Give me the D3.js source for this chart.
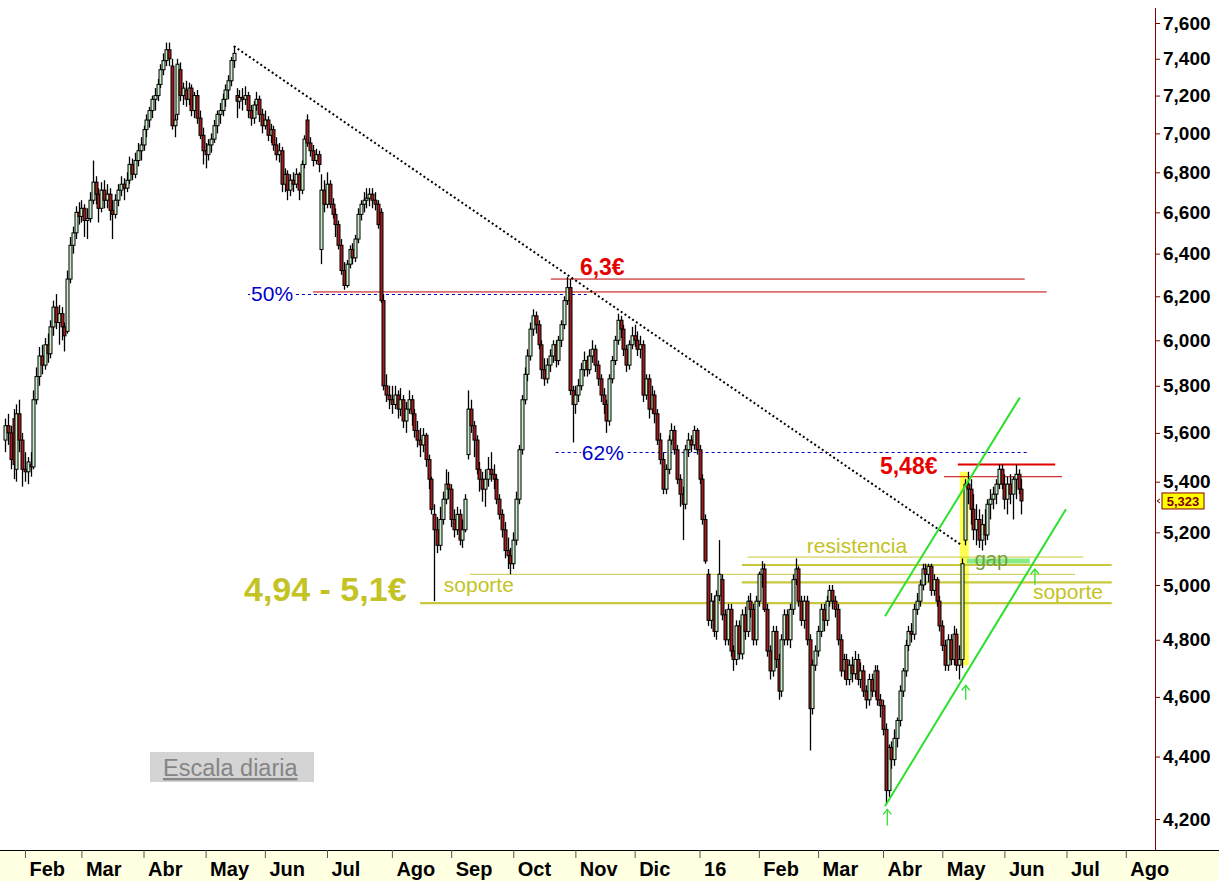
<!DOCTYPE html>
<html>
<head>
<meta charset="utf-8">
<script src="https://cdn.jsdelivr.net/npm/d3@7/dist/d3.min.js"></script>
<style>
html,body{margin:0;padding:0;background:#fff;}
svg{display:block;font-family:"Liberation Sans",Arial,Helvetica,sans-serif;}
</style>
</head>
<body>
<svg id="chart" width="1219" height="881"></svg>
<script>
// ---------- DATA: daily candles [open, high, low, close] ----------
const jan15=[[5.57,5.66,5.52,5.63],[5.63,5.68,5.55,5.60],[5.60,5.63,5.45,5.49],[5.66,5.70,5.41,5.47],[5.45,5.72,5.40,5.68],[5.68,5.74,5.52,5.57],[5.57,5.60,5.38,5.45]];
const feb15=[[5.45,5.52,5.40,5.44],[5.44,5.50,5.39,5.48],[5.47,5.52,5.42,5.46],[5.46,5.78,5.45,5.74],[5.74,5.88,5.72,5.84],[5.84,5.97,5.80,5.93],[5.93,5.98,5.85,5.89],[5.89,6.01,5.87,5.98],[5.98,6.03,5.90,5.94],[5.94,6.09,5.92,6.06],[6.06,6.18,6.02,6.15],[6.15,6.21,6.05,6.08],[6.08,6.16,5.98,6.12],[6.12,6.15,6.00,6.06],[6.06,6.08,5.95,6.02],[6.04,6.32,6.03,6.28],[6.28,6.48,6.26,6.44],[6.44,6.53,6.40,6.50],[6.50,6.63,6.47,6.60],[6.60,6.65,6.54,6.58]];
const mar15=[[6.58,6.66,6.55,6.62],[6.62,6.64,6.48,6.56],[6.56,6.62,6.47,6.57],[6.57,6.70,6.55,6.66],[6.66,6.86,6.64,6.75],[6.75,6.78,6.64,6.69],[6.69,6.72,6.55,6.62],[6.62,6.75,6.60,6.71],[6.71,6.76,6.62,6.66],[6.66,6.74,6.62,6.69],[6.69,6.72,6.56,6.61],[6.61,6.66,6.47,6.59],[6.59,6.69,6.57,6.66],[6.66,6.74,6.63,6.71],[6.71,6.78,6.68,6.74],[6.74,6.77,6.66,6.72],[6.72,6.80,6.70,6.76],[6.76,6.88,6.74,6.84],[6.84,6.87,6.76,6.79],[6.79,6.90,6.77,6.86],[6.86,6.95,6.83,6.91],[6.91,6.98,6.86,6.94]];
const apr15=[[6.94,7.04,6.91,7.02],[7.02,7.10,6.98,7.07],[7.07,7.14,7.03,7.12],[7.12,7.20,7.08,7.18],[7.18,7.24,7.12,7.20],[7.20,7.29,7.17,7.26],[7.26,7.37,7.24,7.34],[7.34,7.43,7.31,7.39],[7.39,7.49,7.36,7.45],[7.45,7.49,7.36,7.40],[7.36,7.40,7.02,7.04],[7.04,7.10,6.98,7.07],[7.10,7.40,7.07,7.37],[7.34,7.38,7.17,7.20],[7.20,7.27,7.15,7.24],[7.23,7.28,7.14,7.18],[7.18,7.27,7.15,7.24],[7.24,7.26,7.09,7.12],[7.12,7.22,7.08,7.20],[7.20,7.23,7.05,7.08],[7.08,7.12,6.97,6.99],[6.99,7.03,6.84,6.91]];
const may15=[[6.91,6.95,6.82,6.89],[6.89,6.97,6.86,6.94],[6.94,7.00,6.90,6.97],[6.97,7.07,6.95,7.04],[7.04,7.12,7.00,7.10],[7.10,7.16,7.05,7.12],[7.12,7.21,7.09,7.18],[7.18,7.26,7.14,7.23],[7.23,7.31,7.18,7.28],[7.28,7.41,7.25,7.39],[7.39,7.47,7.35,7.43],[7.20,7.24,7.08,7.17],[7.17,7.23,7.13,7.19],[7.19,7.24,7.12,7.18],[7.18,7.25,7.15,7.20],[7.20,7.22,7.08,7.12],[7.12,7.15,7.04,7.08],[7.08,7.17,7.05,7.15],[7.15,7.22,7.12,7.18],[7.18,7.20,7.06,7.10],[7.10,7.13,7.00,7.04]];
const jun15=[[7.04,7.12,7.02,7.07],[7.07,7.09,6.96,6.99],[6.99,7.05,6.95,7.02],[7.02,7.04,6.91,6.94],[6.94,6.98,6.86,6.89],[6.89,6.95,6.85,6.91],[6.91,6.93,6.70,6.74],[6.74,6.82,6.70,6.79],[6.79,6.81,6.66,6.71],[6.71,6.79,6.68,6.76],[6.76,6.80,6.70,6.74],[6.74,6.82,6.72,6.79],[6.79,6.80,6.66,6.71],[6.71,6.86,6.69,6.84],[6.84,6.99,6.82,6.97],[7.07,7.10,6.93,6.95],[6.95,6.98,6.88,6.91],[6.91,6.94,6.83,6.86],[6.86,6.92,6.84,6.89],[6.89,6.91,6.80,6.84],[6.42,6.79,6.35,6.71],[6.71,6.76,6.60,6.64]];
const jul15=[[6.64,6.80,6.62,6.74],[6.74,6.76,6.62,6.64],[6.64,6.67,6.57,6.59],[6.59,6.62,6.48,6.54],[6.54,6.56,6.42,6.44],[6.44,6.47,6.30,6.32],[6.32,6.36,6.23,6.25],[6.25,6.37,6.24,6.35],[6.35,6.44,6.33,6.42],[6.42,6.45,6.35,6.38],[6.38,6.49,6.36,6.47],[6.47,6.62,6.45,6.59],[6.59,6.66,6.56,6.64],[6.64,6.70,6.60,6.66],[6.66,6.72,6.62,6.67],[6.67,6.72,6.63,6.69],[6.69,6.72,6.62,6.66],[6.66,6.70,6.61,6.64],[6.64,6.66,6.52,6.54],[6.60,6.62,6.17,6.18],[6.18,6.21,5.78,5.80],[5.80,5.85,5.73,5.76],[5.76,5.80,5.70,5.74]];
const aug15=[[5.74,5.80,5.68,5.72],[5.72,5.80,5.70,5.76],[5.76,5.78,5.66,5.70],[5.70,5.79,5.67,5.74],[5.74,5.76,5.62,5.65],[5.65,5.73,5.60,5.70],[5.70,5.78,5.68,5.74],[5.74,5.76,5.63,5.68],[5.68,5.70,5.58,5.61],[5.61,5.65,5.54,5.57],[5.57,5.62,5.50,5.55],[5.55,5.62,5.52,5.59],[5.59,5.60,5.46,5.49],[5.49,5.51,5.37,5.41],[5.41,5.42,5.27,5.29],[5.27,5.31,4.94,5.21],[5.21,5.26,5.12,5.15],[5.15,5.30,5.13,5.25],[5.25,5.36,5.23,5.33],[5.33,5.45,5.31,5.39],[5.39,5.44,5.33,5.37]];
const sep15=[[5.37,5.39,5.22,5.25],[5.25,5.29,5.18,5.21],[5.21,5.30,5.19,5.27],[5.27,5.29,5.15,5.17],[5.17,5.25,5.14,5.21],[5.21,5.35,5.20,5.33],[5.51,5.78,5.49,5.70],[5.70,5.74,5.60,5.63],[5.63,5.65,5.50,5.57],[5.57,5.59,5.43,5.45],[5.45,5.48,5.36,5.41],[5.41,5.44,5.32,5.37],[5.37,5.45,5.30,5.41],[5.41,5.50,5.38,5.45],[5.45,5.52,5.40,5.43],[5.43,5.47,5.37,5.41],[5.41,5.43,5.31,5.33],[5.33,5.35,5.25,5.27],[5.27,5.29,5.18,5.21],[5.21,5.24,5.10,5.13],[5.13,5.18,5.06,5.11],[5.11,5.14,5.04,5.08]];
const oct15=[[5.08,5.20,5.06,5.17],[5.17,5.36,5.15,5.33],[5.33,5.55,5.31,5.53],[5.53,5.76,5.51,5.74],[5.74,5.88,5.72,5.85],[5.85,5.96,5.82,5.93],[5.93,6.08,5.91,6.05],[6.05,6.14,6.02,6.11],[6.11,6.13,6.03,6.07],[6.07,6.09,5.96,5.98],[5.98,6.00,5.83,5.87],[5.87,5.92,5.80,5.83],[5.83,5.92,5.81,5.89],[5.89,5.96,5.86,5.93],[5.93,6.00,5.90,5.98],[5.98,6.00,5.88,5.91],[5.91,6.02,5.89,6.00],[6.00,6.09,5.97,6.07],[6.07,6.20,6.05,6.18],[6.18,6.29,6.16,6.24],[6.24,6.28,5.76,5.78],[5.78,5.80,5.56,5.72]];
const nov15=[[5.72,5.80,5.68,5.76],[5.76,5.83,5.73,5.80],[5.80,5.90,5.78,5.87],[5.87,5.95,5.84,5.91],[5.91,5.93,5.84,5.87],[5.87,5.96,5.85,5.93],[5.93,6.00,5.90,5.96],[5.96,5.98,5.86,5.89],[5.89,5.91,5.80,5.83],[5.83,5.85,5.73,5.76],[5.76,5.79,5.68,5.72],[5.72,5.74,5.60,5.65],[5.65,5.85,5.63,5.83],[5.83,5.93,5.81,5.91],[5.91,6.02,5.89,6.00],[6.00,6.12,5.98,6.09],[6.09,6.11,6.01,6.05],[6.05,6.07,5.93,5.96],[5.96,5.98,5.86,5.89],[5.89,6.00,5.87,5.98],[5.98,6.06,5.96,6.02]];
const dec15=[[6.02,6.07,5.97,6.00],[6.00,6.04,5.93,5.96],[5.96,6.02,5.92,5.98],[5.98,6.00,5.73,5.76],[5.76,5.85,5.74,5.83],[5.83,5.85,5.66,5.70],[5.70,5.80,5.68,5.76],[5.76,5.78,5.64,5.68],[5.68,5.70,5.55,5.57],[5.57,5.60,5.47,5.49],[5.49,5.52,5.35,5.37],[5.37,5.47,5.35,5.45],[5.45,5.59,5.43,5.57],[5.57,5.64,5.55,5.61],[5.61,5.63,5.51,5.53],[5.53,5.55,5.39,5.41],[5.41,5.43,5.30,5.35],[5.35,5.38,5.17,5.31],[5.31,5.55,5.29,5.53],[5.53,5.60,5.50,5.57],[5.57,5.59,5.52,5.55],[5.55,5.63,5.53,5.61],[5.61,5.62,5.51,5.53]];
const jan16=[[5.53,5.55,5.39,5.41],[5.41,5.43,5.23,5.25],[5.25,5.27,5.08,5.09],[5.04,5.06,4.85,4.87],[4.87,4.97,4.84,4.94],[4.94,4.96,4.81,4.83],[4.83,4.98,4.80,4.96],[4.96,5.17,4.94,5.04],[5.02,5.04,4.87,4.89],[4.89,4.91,4.78,4.80],[4.80,4.93,4.78,4.91],[4.91,4.93,4.74,4.76],[4.76,4.78,4.69,4.73],[4.73,4.87,4.71,4.85],[4.85,4.87,4.73,4.75],[4.75,4.91,4.73,4.89],[4.89,4.92,4.80,4.83],[4.83,4.96,4.81,4.94],[4.94,4.97,4.88,4.91],[4.91,4.93,4.78,4.80],[4.80,4.96,4.78,4.94]];
const feb16=[[4.94,5.05,4.92,5.04],[5.04,5.09,4.99,5.06],[5.06,5.08,4.90,4.91],[4.91,4.93,4.74,4.76],[4.76,4.78,4.66,4.69],[4.69,4.85,4.67,4.83],[4.83,4.85,4.70,4.73],[4.73,4.75,4.59,4.62],[4.62,4.82,4.60,4.80],[4.80,4.91,4.78,4.89],[4.89,4.91,4.78,4.80],[4.80,4.93,4.77,4.91],[4.91,5.04,4.89,5.02],[5.02,5.10,5.00,5.06],[5.06,5.07,4.92,4.94],[4.94,4.96,4.85,4.87],[4.87,4.96,4.84,4.94],[4.94,4.96,4.78,4.80],[4.80,4.82,4.42,4.56],[4.56,4.73,4.54,4.71],[4.71,4.78,4.69,4.76]];
const mar16=[[4.76,4.85,4.74,4.83],[4.83,4.93,4.81,4.91],[4.91,4.93,4.83,4.87],[4.87,4.96,4.85,4.94],[4.94,5.00,4.92,4.98],[4.98,5.00,4.91,4.94],[4.94,4.96,4.88,4.91],[4.91,4.93,4.78,4.80],[4.80,4.82,4.67,4.69],[4.69,4.75,4.66,4.73],[4.73,4.75,4.64,4.66],[4.66,4.73,4.64,4.71],[4.71,4.74,4.65,4.68],[4.68,4.76,4.66,4.73],[4.73,4.75,4.64,4.66],[4.66,4.72,4.63,4.69],[4.69,4.71,4.60,4.62],[4.62,4.64,4.56,4.59],[4.59,4.68,4.57,4.66],[4.66,4.68,4.60,4.62],[4.62,4.71,4.60,4.69],[4.69,4.71,4.57,4.59],[4.59,4.61,4.53,4.57]];
const apr16=[[4.57,4.59,4.47,4.49],[4.49,4.51,4.25,4.29],[4.29,4.44,4.27,4.43],[4.43,4.45,4.36,4.39],[4.39,4.49,4.37,4.46],[4.46,4.53,4.43,4.52],[4.52,4.64,4.50,4.62],[4.62,4.70,4.60,4.69],[4.69,4.80,4.67,4.78],[4.78,4.85,4.76,4.83],[4.83,4.86,4.79,4.82],[4.82,4.93,4.80,4.91],[4.91,4.97,4.89,4.94],[4.94,5.02,4.92,5.00],[5.00,5.08,4.98,5.06],[5.06,5.08,5.00,5.04],[5.04,5.08,5.01,5.07],[5.07,5.08,4.96,4.98],[4.98,5.04,4.96,5.02],[5.02,5.03,4.92,4.94],[4.94,4.96,4.83,4.85]];
const may16=[[4.85,4.87,4.76,4.78],[4.78,4.80,4.69,4.71],[4.71,4.82,4.69,4.80],[4.80,4.82,4.71,4.73],[4.73,4.85,4.71,4.82],[4.82,4.84,4.69,4.71],[4.71,4.78,4.66,4.73],[4.73,5.10,4.70,5.08],[5.17,5.41,5.15,5.39],[5.39,5.44,5.31,5.37],[5.37,5.41,5.23,5.29],[5.29,5.35,5.17,5.21],[5.21,5.31,5.15,5.25],[5.25,5.29,5.14,5.17],[5.17,5.27,5.13,5.23],[5.23,5.29,5.15,5.19],[5.19,5.33,5.17,5.31],[5.31,5.37,5.25,5.33],[5.33,5.38,5.29,5.35],[5.35,5.41,5.31,5.39],[5.39,5.47,5.37,5.45],[5.45,5.47,5.37,5.39]];
const jun16=[[5.39,5.43,5.29,5.33],[5.33,5.42,5.27,5.39],[5.39,5.43,5.31,5.35],[5.35,5.42,5.25,5.41],[5.41,5.47,5.33,5.43],[5.43,5.45,5.35,5.37],[5.37,5.41,5.27,5.323]];

// axis labels
const monthLabels=["Feb","Mar","Abr","May","Jun","Jul","Ago","Sep","Oct","Nov","Dic","16","Feb","Mar","Abr","May","Jun","Jul","Ago"];
const yTickValues=[4.2,4.4,4.6,4.8,5.0,5.2,5.4,5.6,5.8,6.0,6.2,6.4,6.6,6.8,7.0,7.2,7.4,7.6];

// annotations (x in trading-day index, y in euros)
const trendPoints=[[81,7.47],[338.9,5.15]];
const fibValues=[6.21,5.52];
const fibSpans=[[86,206],[195,362]];
const fibLabels=["50%","62%"];
const fibLabelAnchors=[[87.1,6.18],[204.3,5.49]];
const redValues=[6.22,6.28,5.47,5.42];
const redSpans=[[109,369],[193.3,361.2],[337.5,372],[332.6,374.4]];
const redLabels=["6,3€","5,48€"];
const redLabelAnchors=[[203.6,6.30],[309.9,5.43]];
const zoneValues=[5.105,5.075,5.04,5.01,4.933];
const zoneSpans=[[263,382],[261,392],[164.6,379],[261,392],[147,392]];
const zoneLabels=["4,94 - 5,1€","soporte","resistencia","soporte"];
const zoneLabelAnchors=[[84.6,4.94],[155.4,4.975],[284,5.12],[364.1,4.947]];
const gapBand=[338.2,341.4,4.71,5.44];
const gapLine=[[340.7,5.09],[363,5.09]];
const gapLabelAnchor=[343.5,5.07];
const channelUpper=[[311.7,4.885],[359.5,5.75]];
const channelLower=[[311.7,4.24],[375.8,5.29]];
const arrowPoints=[[312.5,4.18,4.23],[340.3,4.59,4.64],[364.8,5.00,5.06]];

// ---------- BUILD ----------
const series=[].concat(jan15,feb15,mar15,apr15,may15,jun15,jul15,aug15,sep15,oct15,nov15,dec15,jan16,feb16,mar16,apr16,may16,jun16)
  .map((d,i)=>({i,o:d[0],h:d[1],l:d[2],c:d[3]}));

// weekday calendar for the date axis
const calendar=[];
for(let d=new Date(Date.UTC(2015,0,22)); d<=new Date(Date.UTC(2016,7,31)); d.setUTCDate(d.getUTCDate()+1)){
  const w=d.getUTCDay(); if(w!==0&&w!==6) calendar.push(new Date(d));
}
const monthStarts=[];
calendar.forEach((d,i)=>{ if(i>0 && d.getUTCMonth()!==calendar[i-1].getUTCMonth()) monthStarts.push(i); });

const W=1219,H=881,plotRight=1155,bandTop=850;
const x=d3.scaleLinear().domain([0,407]).range([5.2,1154]);
const y=d3.scaleLog().domain([4.2,7.6]).range([819,23]);

const svg=d3.select("#chart");
svg.append("rect").attr("width",W).attr("height",H).attr("fill","#fff");
svg.append("defs").append("clipPath").attr("id","plot").append("rect")
  .attr("x",0).attr("y",0).attr("width",plotRight).attr("height",bandTop);
const plot=svg.append("g").attr("clip-path","url(#plot)");

const line=d3.line().x(d=>x(d[0])).y(d=>y(d[1]));

// gap highlight bar
plot.append("rect").attr("x",x(gapBand[0])).attr("width",x(gapBand[1])-x(gapBand[0]))
  .attr("y",y(gapBand[3])).attr("height",y(gapBand[2])-y(gapBand[3]))
  .attr("fill","#ffff3c").attr("opacity",0.9);

// zone (yellow) lines
const zoneWidths=[1,2.2,1,2.2,2.2];
zoneValues.forEach((v,k)=>{
  plot.append("line").attr("x1",x(zoneSpans[k][0])).attr("x2",x(zoneSpans[k][1]))
    .attr("y1",y(v)).attr("y2",y(v)).attr("stroke","#c8c83c").attr("stroke-width",zoneWidths[k]);
});
// gap green line
plot.append("path").attr("d",line(gapLine)).attr("stroke","#86ec86").attr("stroke-width",5).attr("fill","none");

// fib dashed lines
fibValues.forEach((v,k)=>{
  plot.append("line").attr("x1",x(fibSpans[k][0])).attr("x2",x(fibSpans[k][1]))
    .attr("y1",Math.round(y(v))+0.5).attr("y2",Math.round(y(v))+0.5).attr("stroke","#0000c0")
    .attr("stroke-width",1).attr("stroke-dasharray","3,3");
});
// red lines
const redWidths=[1,1,2,1];
const redColors=["#c00000","#c00000","#e00000","#c00000"];
redValues.forEach((v,k)=>{
  plot.append("line").attr("x1",x(redSpans[k][0])).attr("x2",x(redSpans[k][1]))
    .attr("y1",y(v)).attr("y2",y(v)).attr("stroke",redColors[k]).attr("stroke-width",redWidths[k]);
});

// candles
const cg=plot.append("g");
cg.selectAll("line.wick").data(series).join("line").attr("class","wick")
  .attr("x1",d=>Math.round(x(d.i))+0.5).attr("x2",d=>Math.round(x(d.i))+0.5)
  .attr("y1",d=>y(d.h)).attr("y2",d=>y(d.l)).attr("stroke","#000").attr("stroke-width",1.3);
cg.selectAll("rect.body").data(series).join("rect").attr("class","body")
  .attr("x",d=>Math.round(x(d.i))-1)
  .attr("width",3)
  .attr("y",d=>y(Math.max(d.o,d.c)))
  .attr("height",d=>Math.max(1,Math.abs(y(d.o)-y(d.c))))
  .attr("fill",d=>d.c>=d.o?"#c8f0c8":"#a01c1c")
  .attr("stroke","#000").attr("stroke-width",1);

// dotted trend line
plot.append("path").attr("d",line(trendPoints)).attr("fill","none")
  .attr("stroke","#000").attr("stroke-width",2).attr("stroke-dasharray","2,2.6");

// channel lines
[channelUpper,channelLower].forEach(p=>{
  plot.append("path").attr("d",line(p)).attr("fill","none").attr("stroke","#2ee02e").attr("stroke-width",2);
});
// arrows
arrowPoints.forEach(a=>{
  const ax=x(a[0]),y0=y(a[1]),y1=y(a[2]);
  plot.append("line").attr("x1",ax).attr("x2",ax).attr("y1",y0).attr("y2",y1).attr("stroke","#2ee02e").attr("stroke-width",1.3);
  plot.append("path").attr("d",`M${ax-4},${y1+5}L${ax},${y1}L${ax+4},${y1+5}`).attr("fill","none").attr("stroke","#2ee02e").attr("stroke-width",1.3);
});

// texts
const tg=svg.append("g");
fibLabels.forEach((t,k)=>{
  const tx=tg.append("text").attr("x",x(fibLabelAnchors[k][0])).attr("y",y(fibLabelAnchors[k][1]))
    .attr("fill","#0000c8").attr("font-size",21).text(t);
  const b=tx.node().getBBox();
  tg.insert("rect","text").attr("x",b.x-1).attr("y",b.y+3).attr("width",b.width+2).attr("height",b.height-6).attr("fill","#fff");
});
redLabels.forEach((t,k)=>{
  tg.append("text").attr("x",x(redLabelAnchors[k][0])).attr("y",y(redLabelAnchors[k][1]))
    .attr("fill","#e60000").attr("font-size",23).attr("font-weight","bold").text(t);
});
zoneLabels.forEach((t,k)=>{
  tg.append("text").attr("x",x(zoneLabelAnchors[k][0])).attr("y",y(zoneLabelAnchors[k][1]))
    .attr("fill","#c3c325").attr("font-size",k===0?34:21).attr("font-weight",k===0?"bold":"normal").text(t);
});
tg.append("text").attr("x",x(gapLabelAnchor[0])).attr("y",y(gapLabelAnchor[1]))
  .attr("fill","#74a040").attr("font-size",20).text("gap");

// scale note box
svg.append("rect").attr("x",150).attr("y",752).attr("width",164).attr("height",30).attr("fill","#d4d4d4");
svg.append("text").attr("x",163).attr("y",776).attr("fill","#858585").attr("font-size",23.5)
  .attr("text-decoration","underline").text("Escala diaria");

// bottom date band
svg.append("rect").attr("x",0).attr("y",bandTop).attr("width",W).attr("height",H-bandTop).attr("fill","#ffffe2");
svg.append("line").attr("x1",0).attr("x2",W).attr("y1",bandTop+0.5).attr("y2",bandTop+0.5).attr("stroke","#000");
const xAxis=svg.append("g").attr("transform",`translate(0,${bandTop})`)
  .call(d3.axisBottom(x).tickValues(monthStarts).tickSize(8).tickFormat((d,k)=>monthLabels[k]));
xAxis.select(".domain").remove();
xAxis.selectAll(".tick line").attr("stroke","#555");
xAxis.selectAll(".tick text").attr("text-anchor","start").attr("x",4).attr("y",26).attr("dy",0)
  .attr("font-size",20).attr("font-weight","bold").attr("fill","#000")
  .attr("font-family","'Liberation Sans',Arial,sans-serif");

// right price axis
svg.append("line").attr("x1",plotRight+0.5).attr("x2",plotRight+0.5).attr("y1",8).attr("y2",bandTop).attr("stroke","#800000");
const yAxis=svg.append("g").attr("transform",`translate(${plotRight},0)`)
  .call(d3.axisRight(y).tickValues(yTickValues).tickSize(5).tickPadding(3)
  .tickFormat(d=>d.toFixed(3).replace(".",",")));
yAxis.select(".domain").remove();
yAxis.selectAll(".tick line").attr("stroke","#800000");
yAxis.selectAll(".tick text").attr("font-size",19).attr("font-weight","bold").attr("fill","#000")
  .attr("font-family","'Liberation Sans',Arial,sans-serif");

// last price tag
const last=series[series.length-1].c;
const ly=y(last);
svg.append("path").attr("d",`M${plotRight+5},${ly-2}L${plotRight+2},${ly}L${plotRight+5},${ly+2}`).attr("stroke","#800000").attr("fill","none");
svg.append("rect").attr("x",plotRight+7).attr("y",ly-8).attr("width",42).attr("height",16)
  .attr("fill","#ffff00").attr("stroke","#800000");
svg.append("text").attr("x",plotRight+28).attr("y",ly+5).attr("text-anchor","middle")
  .attr("font-size",13).attr("font-weight","bold").attr("fill","#800000").text(last.toFixed(3).replace(".",","));
</script>
</body>
</html>
